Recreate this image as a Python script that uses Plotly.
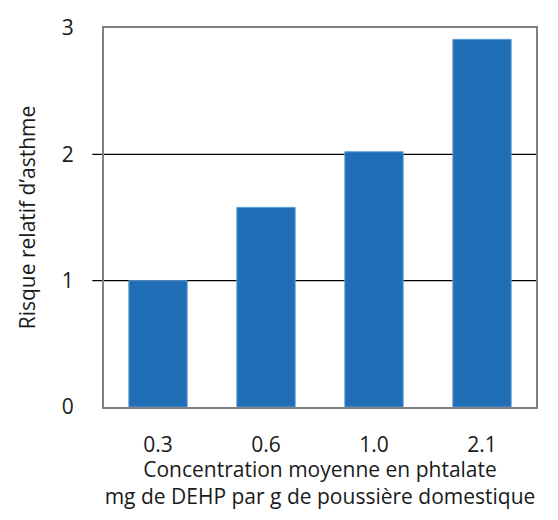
import plotly.graph_objects as go

categories = ["0.3", "0.6", "1.0", "2.1"]
risque = [1.0, 1.58, 2.02, 2.91]
y_ticks = [0, 1, 2, 3]
grid_values = [1, 2]

font_family = "Open Sans, Noto Sans, sans-serif"
fs = 21

fig = go.Figure(
    go.Bar(
        x=categories,
        y=risque,
        marker=dict(color="#1F6DB5", line=dict(color="#5B9BD5", width=1)),
        width=0.54,
    )
)

for g in grid_values:
    fig.add_shape(
        type="line", xref="paper", yref="y",
        x0=-0.027, x1=1, y0=g, y1=g,
        line=dict(color="black", width=1.3), layer="below",
    )

fig.update_layout(
    width=540, height=502,
    margin=dict(l=96, r=12, t=20, b=103),
    paper_bgcolor="white", plot_bgcolor="white",
    showlegend=False,
    font=dict(family=font_family, size=fs, color="#1a1a1a"),
    xaxis=dict(
        automargin=False,
        showline=True, mirror=True, linecolor="#808080", linewidth=2,
        ticks="", ticklabelstandoff=18,
        tickfont=dict(size=fs),
        title=dict(
            text="Concentration moyenne en phtalate<br>mg de DEHP par g de poussière domestique",
            font=dict(size=fs), standoff=14,
        ),
    ),
    yaxis=dict(
        automargin=False,
        range=[0, 3], tickvals=y_ticks,
        showgrid=False, zeroline=False,
        showline=True, mirror=True, linecolor="#808080", linewidth=2,
        ticks="", ticklabelstandoff=24, ticklabeloverflow="allow",
        tickfont=dict(size=fs),
        title=dict(text="Risque relatif d’asthme", font=dict(size=fs), standoff=20),
    ),
)

fig.write_html("out.html")
